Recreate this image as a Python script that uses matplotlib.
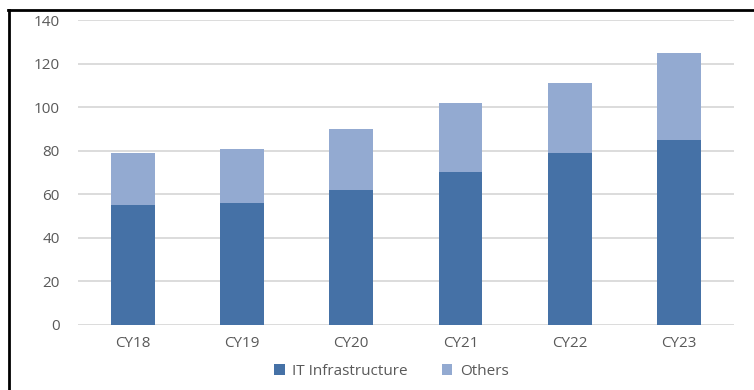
import matplotlib.pyplot as plt
from matplotlib.lines import Line2D

years = ['CY18', 'CY19', 'CY20', 'CY21', 'CY22', 'CY23']
it_infra = [55, 56, 62, 70, 79, 85]
others = [24, 25, 28, 32, 32, 40]

plt.rcParams['font.family'] = ['Open Sans', 'DejaVu Sans']

fig = plt.figure(figsize=(7.54, 3.9), dpi=100)
ax = fig.add_axes([0.1035, 0.1667, 0.8695, 0.782])

x = range(len(years))
ax.bar(x, it_infra, width=0.4, color='#4571a6', label='IT Infrastructure', zorder=3)
ax.bar(x, others, width=0.4, bottom=it_infra, color='#93aad1', label='Others', zorder=3)

ax.set_xlim(-0.5, len(years) - 0.5)
ax.set_ylim(0, 140)
ax.set_yticks(range(0, 141, 20))
ax.set_xticks(list(x))
ax.set_xticklabels(years)
ax.yaxis.grid(True, color='#d9d9d9', linewidth=1.3, zorder=0)
for s in ax.spines.values():
    s.set_visible(False)
ax.tick_params(length=0, colors='#595959', labelsize=11)
ax.tick_params(axis='y', pad=13)
ax.tick_params(axis='x', pad=8)

ax.legend(loc='center', bbox_to_anchor=(0.478, -0.151), ncol=2, frameon=False,
          fontsize=11, labelcolor='#595959', handlelength=0.7, handleheight=0.7,
          columnspacing=2.2, handletextpad=0.5, borderpad=0)

# frame lines along the top and left edges
fig.add_artist(Line2D([8 / 754, 1], [1 - 9.5 / 390] * 2, transform=fig.transFigure,
                      color='black', linewidth=2))
fig.add_artist(Line2D([9 / 754] * 2, [0, 1 - 9.5 / 390], transform=fig.transFigure,
                      color='black', linewidth=2))

fig.savefig('out.png', dpi=100, facecolor='white')
